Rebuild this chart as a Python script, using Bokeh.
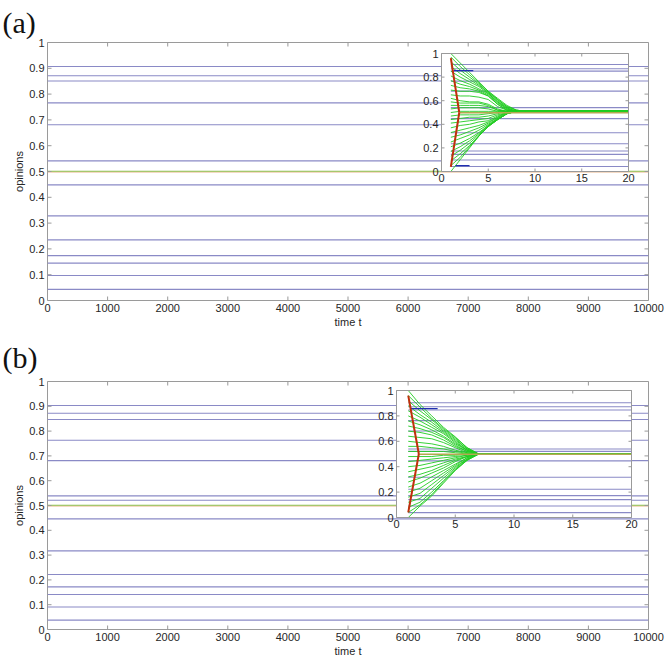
import math
from bokeh.plotting import figure
from bokeh.models import Range1d, FixedTicker
from bokeh.layouts import column
from bokeh.embed import file_html
from bokeh.resources import INLINE
from bokeh.core.properties import value

# ---------------- data ----------------
x_ticks = [0, 1000, 2000, 3000, 4000, 5000, 6000, 7000, 8000, 9000, 10000]
y_ticks = [0, 0.1, 0.2, 0.3, 0.4, 0.5, 0.6, 0.7, 0.8, 0.9, 1]
y_tick_labels = ["0", "0.1", "0.2", "0.3", "0.4", "0.5", "0.6", "0.7", "0.8", "0.9", "1"]
inset_x_ticks = [0, 5, 10, 15, 20]
inset_x_tick_labels = ["0", "5", "10", "15", "20"]
inset_y_ticks = [0, 0.2, 0.4, 0.6, 0.8, 1]
inset_y_tick_labels = ["0", "0.2", "0.4", "0.6", "0.8", "1"]

main_span = [0, 10000]      # time span of the main panels
inset_span = [1, 20]        # time span of fixed opinions in the insets
inset_x_range = [0, 20]
inset_y_range = [0, 1]

# fixed (stubborn) opinions, panel (a) and (b)
fixed_a = [0.907, 0.871, 0.851, 0.766, 0.681, 0.541, 0.448, 0.328, 0.235, 0.174, 0.145, 0.097, 0.043]
fixed_b = [0.903, 0.872, 0.847, 0.763, 0.681, 0.539, 0.521, 0.446, 0.317, 0.222, 0.172, 0.141, 0.091, 0.038]
consensus_green = 0.501
consensus_red = 0.498

# green trajectories (free agents) sampled at these times
t_a = [1, 2, 3, 4, 5, 6, 7, 8, 9, 20]
traj_a = [
    [1.00, 0.92, 0.84, 0.76, 0.68, 0.62, 0.56, 0.52, 0.51, 0.51],
    [0.97, 0.89, 0.82, 0.75, 0.68, 0.61, 0.55, 0.52, 0.51, 0.51],
    [0.93, 0.86, 0.80, 0.74, 0.67, 0.61, 0.55, 0.52, 0.51, 0.51],
    [0.89, 0.83, 0.78, 0.73, 0.67, 0.60, 0.54, 0.51, 0.51, 0.51],
    [0.85, 0.80, 0.76, 0.72, 0.66, 0.59, 0.54, 0.51, 0.51, 0.51],
    [0.81, 0.77, 0.74, 0.70, 0.66, 0.59, 0.53, 0.51, 0.51, 0.51],
    [0.77, 0.74, 0.72, 0.69, 0.65, 0.58, 0.53, 0.51, 0.51, 0.51],
    [0.73, 0.71, 0.70, 0.68, 0.64, 0.57, 0.52, 0.51, 0.51, 0.51],
    [0.69, 0.68, 0.68, 0.67, 0.64, 0.57, 0.52, 0.51, 0.51, 0.51],
    [0.65, 0.64, 0.64, 0.63, 0.61, 0.55, 0.52, 0.51, 0.51, 0.51],
    [0.62, 0.60, 0.59, 0.59, 0.57, 0.53, 0.51, 0.51, 0.51, 0.51],
    [0.59, 0.58, 0.58, 0.58, 0.56, 0.52, 0.51, 0.51, 0.51, 0.51],
    [0.56, 0.56, 0.56, 0.56, 0.55, 0.52, 0.51, 0.51, 0.51, 0.51],
    [0.53, 0.54, 0.54, 0.54, 0.53, 0.51, 0.51, 0.51, 0.51, 0.51],
    [0.50, 0.51, 0.51, 0.51, 0.51, 0.51, 0.51, 0.51, 0.51, 0.51],
    [0.47, 0.48, 0.48, 0.48, 0.49, 0.50, 0.51, 0.51, 0.51, 0.51],
    [0.44, 0.45, 0.46, 0.46, 0.47, 0.49, 0.51, 0.51, 0.51, 0.51],
    [0.41, 0.42, 0.43, 0.44, 0.45, 0.48, 0.50, 0.51, 0.51, 0.51],
    [0.37, 0.39, 0.40, 0.42, 0.43, 0.47, 0.50, 0.51, 0.51, 0.51],
    [0.33, 0.35, 0.37, 0.39, 0.42, 0.46, 0.50, 0.51, 0.51, 0.51],
    [0.29, 0.31, 0.34, 0.37, 0.41, 0.46, 0.50, 0.51, 0.51, 0.51],
    [0.25, 0.28, 0.31, 0.35, 0.40, 0.45, 0.49, 0.51, 0.51, 0.51],
    [0.21, 0.24, 0.28, 0.33, 0.39, 0.45, 0.49, 0.51, 0.51, 0.51],
    [0.17, 0.21, 0.26, 0.32, 0.39, 0.44, 0.49, 0.51, 0.51, 0.51],
    [0.13, 0.18, 0.24, 0.31, 0.38, 0.44, 0.49, 0.51, 0.51, 0.51],
    [0.09, 0.15, 0.22, 0.30, 0.38, 0.44, 0.49, 0.51, 0.51, 0.51],
    [0.05, 0.12, 0.21, 0.30, 0.385, 0.44, 0.49, 0.51, 0.51, 0.51],
    [0.00, 0.10, 0.20, 0.30, 0.385, 0.44, 0.49, 0.51, 0.51, 0.51],
]
t_b = [1, 2, 3, 4, 5, 6, 7, 20]
traj_b = [
    [1.00, 0.89, 0.80, 0.71, 0.635, 0.55, 0.50, 0.50],
    [0.96, 0.87, 0.78, 0.70, 0.63, 0.55, 0.50, 0.50],
    [0.92, 0.84, 0.77, 0.69, 0.62, 0.54, 0.50, 0.50],
    [0.88, 0.81, 0.75, 0.68, 0.61, 0.54, 0.50, 0.50],
    [0.84, 0.79, 0.73, 0.67, 0.60, 0.53, 0.50, 0.50],
    [0.80, 0.76, 0.71, 0.66, 0.59, 0.53, 0.50, 0.50],
    [0.76, 0.73, 0.69, 0.64, 0.58, 0.53, 0.50, 0.50],
    [0.72, 0.70, 0.67, 0.63, 0.57, 0.52, 0.50, 0.50],
    [0.68, 0.67, 0.65, 0.61, 0.56, 0.52, 0.50, 0.50],
    [0.64, 0.63, 0.62, 0.59, 0.55, 0.51, 0.50, 0.50],
    [0.60, 0.59, 0.58, 0.56, 0.53, 0.51, 0.50, 0.50],
    [0.56, 0.56, 0.55, 0.54, 0.52, 0.505, 0.50, 0.50],
    [0.52, 0.52, 0.52, 0.52, 0.51, 0.50, 0.50, 0.50],
    [0.48, 0.48, 0.48, 0.49, 0.49, 0.50, 0.50, 0.50],
    [0.44, 0.45, 0.46, 0.47, 0.48, 0.49, 0.50, 0.50],
    [0.40, 0.41, 0.43, 0.45, 0.47, 0.49, 0.50, 0.50],
    [0.36, 0.38, 0.40, 0.43, 0.46, 0.48, 0.50, 0.50],
    [0.32, 0.34, 0.37, 0.41, 0.45, 0.48, 0.50, 0.50],
    [0.28, 0.31, 0.35, 0.39, 0.44, 0.48, 0.50, 0.50],
    [0.24, 0.27, 0.32, 0.37, 0.42, 0.47, 0.50, 0.50],
    [0.20, 0.23, 0.29, 0.35, 0.41, 0.47, 0.50, 0.50],
    [0.16, 0.19, 0.26, 0.33, 0.40, 0.46, 0.50, 0.50],
    [0.12, 0.15, 0.23, 0.31, 0.39, 0.46, 0.50, 0.50],
    [0.08, 0.12, 0.20, 0.29, 0.38, 0.455, 0.50, 0.50],
    [0.04, 0.10, 0.18, 0.28, 0.375, 0.45, 0.50, 0.50],
    [0.00, 0.09, 0.17, 0.27, 0.37, 0.45, 0.50, 0.50],
]
# red (leader) trajectories
red_t = [1, 1.9, 20]
red_upper = [0.96, 0.50, 0.50]
red_lower = [0.04, 0.50, 0.50]
# short dark-blue segments in the insets
dark_t0_a = [1.3, 1.5]
dark_t1_a = [3.4, 3.0]
dark_v_a = [0.855, 0.05]
dark_t0_b = [1.2]
dark_t1_b = [3.5]
dark_v_b = [0.858]

# ---------------- style ----------------
BLUE = "#8a8ac6"
DARK = "#2030b0"
GREEN = "#22cc22"
RED = "#c0300c"
OLIVE = "#b4a850"
ORANGE = "#eab488"
CONS_GREEN = "#8cc050"
FRAME = "#9a9a9a"
TEXT = "#262626"
FONT = "Liberation Sans"
W = 670
TICK = 4


def frame_ticks(p, xr, yr, xt, yt, length, **kw):
    nx, ny = len(xt), len(yt)
    p.ray(x=xt, y=[yr[0]] * nx, length=length, length_units="screen",
          angle=math.pi / 2, line_color=FRAME, **kw)
    p.ray(x=xt, y=[yr[1]] * nx, length=length, length_units="screen",
          angle=-math.pi / 2, line_color=FRAME, **kw)
    p.ray(x=[xr[0]] * ny, y=yt, length=length, length_units="screen",
          angle=0, line_color=FRAME, **kw)
    p.ray(x=[xr[1]] * ny, y=yt, length=length, length_units="screen",
          angle=math.pi, line_color=FRAME, **kw)


def make_panel(label, height, frame_px, inset_px, title_standoff, fixed, t_traj, trajs, dark):
    fl, fr, ft, fb = frame_px
    p = figure(width=W, height=height, x_range=Range1d(0, 10000), y_range=Range1d(0, 1),
               output_backend="svg", toolbar_location=None,
               min_border_left=fl, min_border_right=W - fr,
               min_border_top=ft, min_border_bottom=height - fb)
    p.grid.visible = False
    p.outline_line_color = FRAME
    p.outline_line_width = 1
    p.background_fill_color = "white"
    p.border_fill_color = "white"

    p.title.text = label
    p.title.text_font = "Liberation Serif"
    p.title.text_font_size = "30px"
    p.title.text_font_style = "normal"
    p.title.text_color = "#111111"
    p.title.align = "left"
    p.title.offset = -fl + 2
    p.title.standoff = title_standoff

    p.xaxis.ticker = FixedTicker(ticks=x_ticks)
    p.yaxis.ticker = FixedTicker(ticks=y_ticks)
    p.yaxis.major_label_overrides = dict(zip(y_ticks, y_tick_labels))
    p.xaxis.axis_label = "time t"
    p.yaxis.axis_label = "opinions"
    for ax in p.axis:
        ax.axis_line_color = None
        ax.major_tick_in = 0
        ax.major_tick_out = 0
        ax.minor_tick_line_color = None
        ax.major_label_text_font = FONT
        ax.major_label_text_font_size = "11px"
        ax.major_label_text_color = TEXT
        ax.major_label_standoff = 3
        ax.axis_label_text_font = FONT
        ax.axis_label_text_font_size = "11px"
        ax.axis_label_text_font_style = "normal"
        ax.axis_label_text_color = TEXT
        ax.axis_label_standoff = 1

    # main panel: fixed opinions + consensus
    p.multi_line(xs=[main_span] * len(fixed), ys=[[v, v] for v in fixed],
                 line_color=BLUE, line_width=1.1)
    p.line(x=main_span, y=[consensus_red] * 2, line_color=ORANGE, line_width=1.2)
    p.line(x=main_span, y=[consensus_green] * 2, line_color=CONS_GREEN, line_width=1.2)
    frame_ticks(p, main_span, [0, 1], x_ticks, y_ticks, TICK)

    # inset placed with extra ranges
    il, ir, it, ib = inset_px
    fx0 = (il - fl) / (fr - fl)
    fx1 = (ir - fl) / (fr - fl)
    spanx = (inset_x_range[1] - inset_x_range[0]) / (fx1 - fx0)
    sx = inset_x_range[0] - fx0 * spanx
    fy0 = (fb - ib) / (fb - ft)
    fy1 = (fb - it) / (fb - ft)
    spany = (inset_y_range[1] - inset_y_range[0]) / (fy1 - fy0)
    sy = inset_y_range[0] - fy0 * spany
    p.extra_x_ranges = {"ix": Range1d(sx, sx + spanx)}
    p.extra_y_ranges = {"iy": Range1d(sy, sy + spany)}
    kw = dict(x_range_name="ix", y_range_name="iy")

    p.quad(left=[inset_x_range[0]], right=[inset_x_range[1]],
           bottom=[inset_y_range[0]], top=[inset_y_range[1]],
           fill_color="white", line_color=None, **kw)
    p.multi_line(xs=[inset_span] * len(fixed), ys=[[v, v] for v in fixed],
                 line_color=BLUE, line_width=1.1, **kw)
    p.multi_line(xs=[t_traj] * len(trajs), ys=trajs, line_color=GREEN,
                 line_width=1.0, line_alpha=0.9, **kw)
    d0, d1, dv = dark
    p.multi_line(xs=[[a, b] for a, b in zip(d0, d1)], ys=[[v, v] for v in dv],
                 line_color=DARK, line_width=1.3, **kw)
    p.line(x=red_t[1:], y=[consensus_red] * 2, line_color=OLIVE, line_width=1.3, **kw)
    p.line(x=red_t[:2], y=red_upper[:2], line_color=RED, line_width=2, **kw)
    p.line(x=red_t[:2], y=red_lower[:2], line_color=RED, line_width=2, **kw)

    # inset frame, ticks and tick labels
    p.quad(left=[inset_x_range[0]], right=[inset_x_range[1]],
           bottom=[inset_y_range[0]], top=[inset_y_range[1]],
           fill_color=None, line_color=FRAME, line_width=1, **kw)
    frame_ticks(p, inset_x_range, inset_y_range, inset_x_ticks, inset_y_ticks, 3, **kw)
    nx, ny = len(inset_x_ticks), len(inset_y_ticks)
    p.text(x=inset_x_ticks, y=[inset_y_range[0]] * nx, text=inset_x_tick_labels,
           text_align="center", text_baseline="top", y_offset=2,
           text_font=value(FONT), text_font_size="11px", text_color=TEXT, **kw)
    p.text(x=[inset_x_range[0]] * ny, y=inset_y_ticks, text=inset_y_tick_labels,
           text_align="right", text_baseline="middle", x_offset=-3,
           text_font=value(FONT), text_font_size="11px", text_color=TEXT, **kw)
    return p


# frame pixel positions inside each figure: left, right, top, bottom
pa = make_panel("(a)", 330, (47, 648, 42, 300), (441, 628, 53, 171), 7, fixed_a, t_a, traj_a,
                (dark_t0_a, dark_t1_a, dark_v_a))
pb = make_panel("(b)", 329, (47, 648, 51, 299), (396, 631, 60, 187), 16, fixed_b, t_b, traj_b,
                (dark_t0_b, dark_t1_b, dark_v_b))

layout = column(pa, pb, spacing=0)
open("out.html", "w").write(file_html(layout, INLINE))
